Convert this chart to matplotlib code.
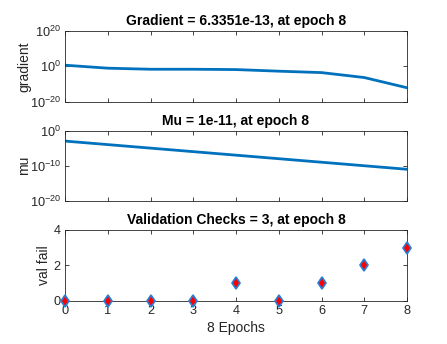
import matplotlib
matplotlib.use("Agg")
import matplotlib.pyplot as plt
import numpy as np

plt.rcParams['font.family'] = ['Liberation Sans', 'DejaVu Sans']
plt.rcParams['mathtext.fontset'] = 'custom'
plt.rcParams['mathtext.rm'] = 'Liberation Sans'
plt.rcParams['mathtext.it'] = 'Liberation Sans:italic'
plt.rcParams['mathtext.bf'] = 'Liberation Sans:bold'
plt.rcParams['axes.unicode_minus'] = False

epochs = [0, 1, 2, 3, 4, 5, 6, 7, 8]
gradient = [4.0, 0.08, 0.02, 0.02, 0.013, 1.6e-3, 2.5e-4, 4e-7, 6.3351e-13]
mu = [1e-3, 1e-4, 1e-5, 1e-6, 1e-7, 1e-8, 1e-9, 1e-10, 1e-11]
val_fail = [0, 0, 0, 0, 1, 0, 1, 2, 3]

titles = ["Gradient = 6.3351e-13, at epoch 8",
          "Mu = 1e-11, at epoch 8",
          "Validation Checks = 3, at epoch 8"]
ylabels = ["gradient", "mu", "val fail"]

W, H = 447, 344
fig = plt.figure(figsize=(W/100, H/100), dpi=100)
blue = (0, 0.447, 0.741)
axcol = (0.15, 0.15, 0.15)

left = 65/W
width = (407-65)/W
tops = [31, 130.5, 230]
height_px = 70.5

axes = []
for i, t in enumerate(tops):
    ax = fig.add_axes([left, 1 - (t + height_px)/H, width, height_px/H])
    axes.append(ax)

ax = axes[0]
ax.semilogy(epochs, gradient, color=blue, lw=2)
ax.set_ylim(1e-20, 1e20)
ax.set_yticks([1e-20, 1e0, 1e20])
ax = axes[1]
ax.semilogy(epochs, mu, color=blue, lw=2)
ax.set_ylim(1e-20, 1e0)
ax.set_yticks([1e-20, 1e-10, 1e0])
ax = axes[2]
ax.plot(epochs, val_fail, linestyle='none', marker='d', markersize=6.5,
        markerfacecolor='red', markeredgecolor=(0.15, 0.5, 0.85), markeredgewidth=1.2,
        clip_on=False, zorder=5)
ax.set_ylim(0, 4)
ax.set_yticks([0, 2, 4])
ax.set_xlabel("8 Epochs", fontsize=10, color=axcol, labelpad=3)

label_x = [31, 31, 51]
for i, ax in enumerate(axes):
    ax.set_xlim(0, 8)
    ax.set_xticks(epochs)
    ax.yaxis.set_minor_locator(matplotlib.ticker.NullLocator())
    ax.tick_params(direction='in', top=True, right=True, length=3, width=0.6,
                   colors=axcol, labelsize=9.2, pad=3)
    ax.tick_params(which='minor', length=0)
    for s in ax.spines.values():
        s.set_color(axcol)
        s.set_linewidth(0.6)
    ax.set_title(titles[i], fontsize=10, fontweight='bold', pad=4, color='black')
    ax.set_ylabel(ylabels[i], fontsize=10, color=axcol)
    ax.yaxis.set_label_coords((label_x[i] - 65) / (407 - 65), 0.5)
    if i < 2:
        ax.set_xticklabels([])

fig.savefig("out.png", dpi=100)
